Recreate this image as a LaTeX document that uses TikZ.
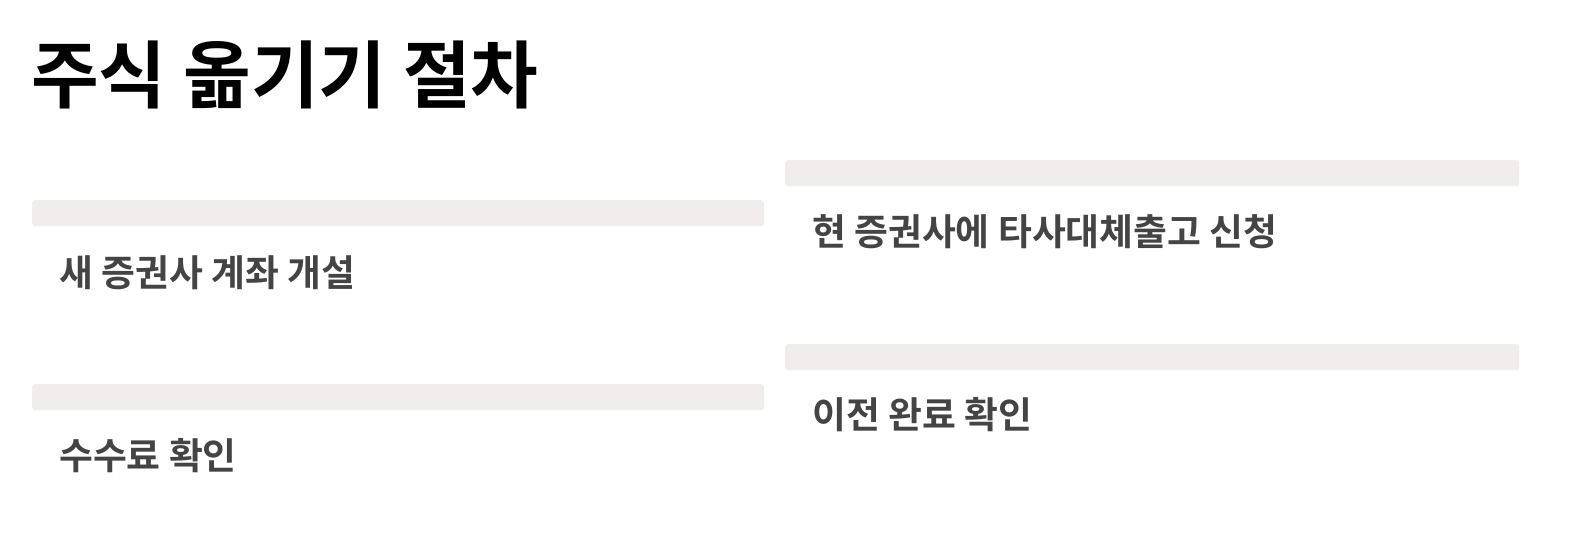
\documentclass[tikz,border=0pt]{standalone}
\usepackage{fontspec}
\setmainfont{Noto Sans CJK KR}[BoldFont={Noto Sans CJK KR Bold}]
\usetikzlibrary{positioning}
\definecolor{barfill}{HTML}{F1EDEC}
\definecolor{stepgray}{HTML}{444444}
\tikzset{
  stepbar/.style={fill=barfill,rounded corners=3pt,inner sep=0pt,minimum width=732pt,minimum height=26pt,anchor=north west},
  steptext/.style={anchor=west,inner sep=0pt,text=stepgray,font=\fontsize{36.8pt}{42pt}\selectfont\bfseries}
}
\begin{document}
\begin{tikzpicture}[x=1pt,y=-1pt]
\useasboundingbox (0,0) rectangle (1577,537);
\node[anchor=west,inner sep=0pt,font=\fontsize{73.6pt}{86pt}\selectfont\bfseries] (title) at (31,75) {주식 옮기기 절차};
% left column
\node[stepbar] (barA) at (32,200) {};
\node[steptext] (stepA) at (59,273) {새 증권사 계좌 개설};
\node[stepbar] (barC) at (32,384) {};
\node[steptext] (stepC) at (59,456) {수수료 확인};
% right column
\node[stepbar,minimum width=734pt] (barB) at (785,160) {};
\node[steptext] (stepB) at (812,232) {현 증권사에 타사대체출고 신청};
\node[stepbar,minimum width=734pt] (barD) at (785,344) {};
\node[steptext] (stepD) at (812,415) {이전 완료 확인};
\end{tikzpicture}
\end{document}
